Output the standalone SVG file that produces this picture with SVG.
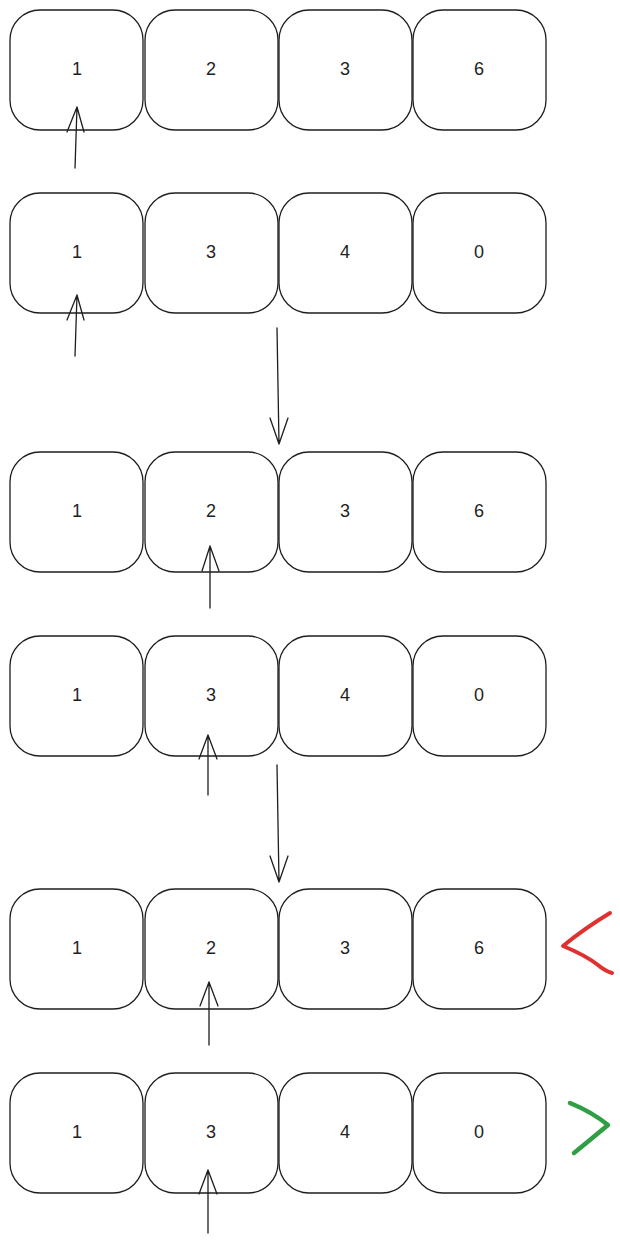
<svg xmlns="http://www.w3.org/2000/svg" width="620" height="1243" viewBox="0 0 620 1243">
<style>
.box{fill:#fff;stroke:#1e1e1e;stroke-width:1.3}
.t{font-family:"Liberation Sans",Arial,sans-serif;font-size:18px;fill:#1e1e1e;text-anchor:middle;dominant-baseline:central}
.ar{fill:none;stroke:#1e1e1e;stroke-width:1.3;stroke-linecap:round;stroke-linejoin:round}
.red{fill:none;stroke:#e03131;stroke-width:4;stroke-linecap:round;stroke-linejoin:round}
.green{fill:none;stroke:#2f9e44;stroke-width:4.5;stroke-linecap:round;stroke-linejoin:round}
</style>
<rect width="620" height="1243" fill="#fff"/>
<defs>
<g id="cell"><rect class="box" x="0" y="0" width="133" height="120" rx="30" ry="30"/></g>
</defs>
<g id="row1">
<g id="r1c1"><use href="#cell" x="10" y="10"/><text class="t" x="77" y="69">1</text></g>
<g id="r1c2"><use href="#cell" x="145" y="10"/><text class="t" x="211" y="69">2</text></g>
<g id="r1c3"><use href="#cell" x="279" y="10"/><text class="t" x="345" y="69">3</text></g>
<g id="r1c4"><use href="#cell" x="413" y="10"/><text class="t" x="479" y="69">6</text></g>
</g>
<g id="row2">
<g id="r2c1"><use href="#cell" x="10" y="193"/><text class="t" x="77" y="252">1</text></g>
<g id="r2c2"><use href="#cell" x="145" y="193"/><text class="t" x="211" y="252">3</text></g>
<g id="r2c3"><use href="#cell" x="279" y="193"/><text class="t" x="345" y="252">4</text></g>
<g id="r2c4"><use href="#cell" x="413" y="193"/><text class="t" x="479" y="252">0</text></g>
</g>
<g id="row3">
<g id="r3c1"><use href="#cell" x="10" y="452"/><text class="t" x="77" y="511">1</text></g>
<g id="r3c2"><use href="#cell" x="145" y="452"/><text class="t" x="211" y="511">2</text></g>
<g id="r3c3"><use href="#cell" x="279" y="452"/><text class="t" x="345" y="511">3</text></g>
<g id="r3c4"><use href="#cell" x="413" y="452"/><text class="t" x="479" y="511">6</text></g>
</g>
<g id="row4">
<g id="r4c1"><use href="#cell" x="10" y="636"/><text class="t" x="77" y="695">1</text></g>
<g id="r4c2"><use href="#cell" x="145" y="636"/><text class="t" x="211" y="695">3</text></g>
<g id="r4c3"><use href="#cell" x="279" y="636"/><text class="t" x="345" y="695">4</text></g>
<g id="r4c4"><use href="#cell" x="413" y="636"/><text class="t" x="479" y="695">0</text></g>
</g>
<g id="row5">
<g id="r5c1"><use href="#cell" x="10" y="889"/><text class="t" x="77" y="948">1</text></g>
<g id="r5c2"><use href="#cell" x="145" y="889"/><text class="t" x="211" y="948">2</text></g>
<g id="r5c3"><use href="#cell" x="279" y="889"/><text class="t" x="345" y="948">3</text></g>
<g id="r5c4"><use href="#cell" x="413" y="889"/><text class="t" x="479" y="948">6</text></g>
</g>
<g id="row6">
<g id="r6c1"><use href="#cell" x="10" y="1073"/><text class="t" x="77" y="1132">1</text></g>
<g id="r6c2"><use href="#cell" x="145" y="1073"/><text class="t" x="211" y="1132">3</text></g>
<g id="r6c3"><use href="#cell" x="279" y="1073"/><text class="t" x="345" y="1132">4</text></g>
<g id="r6c4"><use href="#cell" x="413" y="1073"/><text class="t" x="479" y="1132">0</text></g>
</g>
<g id="connectors">
<path class="ar" d="M75 168 L77 107 M67 132 L77 107 L84 132"/>
<path class="ar" d="M75 356 L77 295 M67 320 L77 295 L84 320"/>
<path class="ar" d="M277 328 L279 444 M270 418 L279 444 L288 418"/>
<path class="ar" d="M210 608 L210 546 M202 571 L210 546 L219 571"/>
<path class="ar" d="M208 795 L208 735 M199 759 L208 735 L217 759"/>
<path class="ar" d="M277 765 L279 882 M270 856 L279 882 L288 856"/>
<path class="ar" d="M209 1045 L209 982 M200 1006 L209 982 L218 1006"/>
<path class="ar" d="M208 1233 L208 1170 M199 1194 L208 1170 L217 1194"/>
</g>
<g id="marks">
<path class="red" d="M610 913 Q585 928 563 946 Q585 955 598 965 Q605 971 612 973"/>
<path class="green" d="M570 1103 Q592 1112 608 1125 Q590 1140 574 1153"/>
</g>
</svg>
